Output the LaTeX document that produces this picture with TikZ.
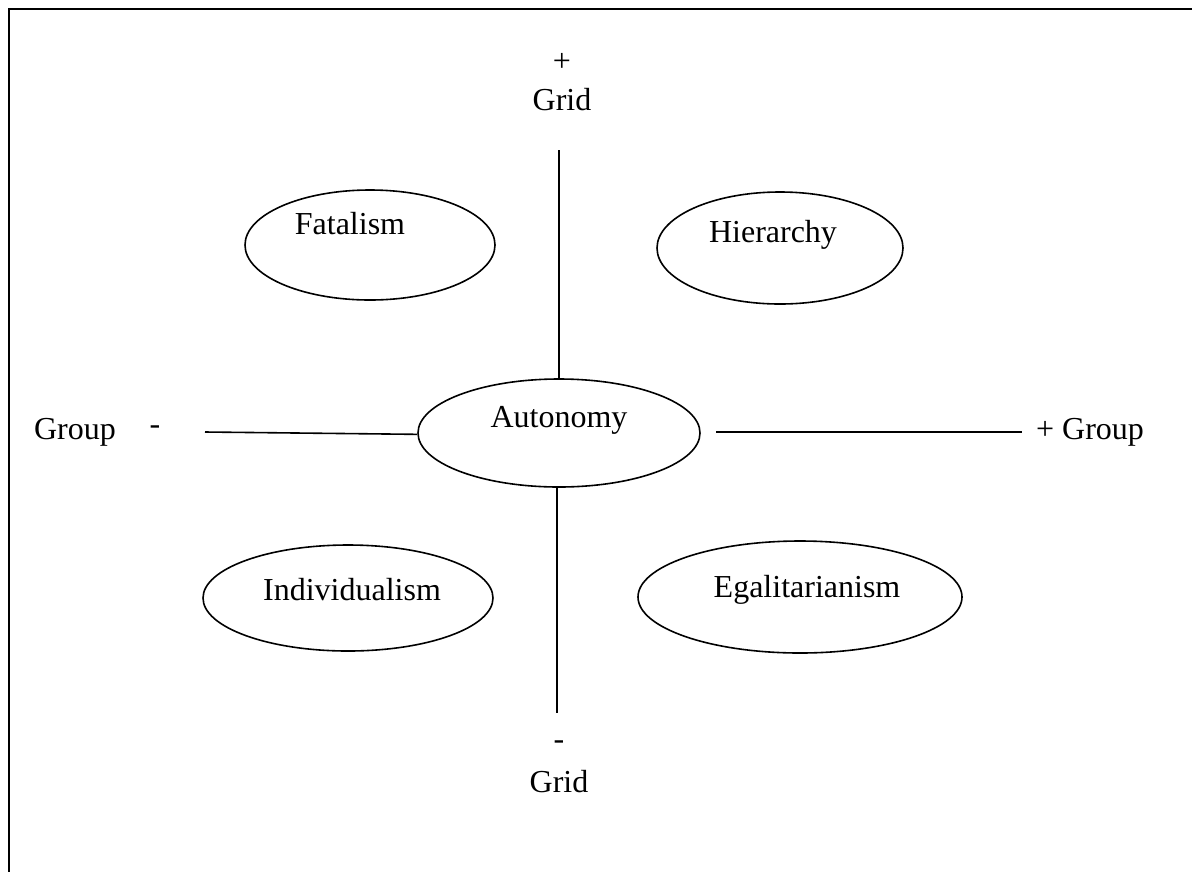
\documentclass[tikz,border=0pt]{standalone}
\usepackage{fontspec}
\setmainfont{Liberation Serif}
\usetikzlibrary{shapes.geometric}
\begin{document}
\begin{tikzpicture}[x=0.375pt,y=-0.375pt,
  oval/.style={draw,line width=0.6pt,ellipse,inner sep=0pt},
  axis/.style={line width=0.6pt},
  lbl/.style={font=\fontsize{12pt}{14pt}\selectfont,inner sep=0pt}]
\useasboundingbox (0,0) rectangle (1192,872);
\draw[line width=0.8pt] (1192,9) -- (9,9) -- (9,872);
% ellipses
\node[oval,minimum width=250*0.375pt,minimum height=110*0.375pt] (fat) at (370,245) {};
\node[lbl] (fatt) at (350,224) {Fatalism};
\node[oval,minimum width=246*0.375pt,minimum height=112*0.375pt] (hier) at (780,248) {};
\node[lbl] (hiert) at (773,235) {Hierarchy};
\node[oval,minimum width=282*0.375pt,minimum height=108*0.375pt] (aut) at (559,433) {};
\node[lbl] (autt) at (559,420) {Autonomy};
\node[oval,minimum width=290*0.375pt,minimum height=106*0.375pt] (ind) at (348,598) {};
\node[lbl] (indt) at (352,590) {Individualism};
\node[oval,minimum width=324*0.375pt,minimum height=112*0.375pt] (ega) at (800,597) {};
\node[lbl] (egat) at (807,590) {Egalitarianism};
% axes
\coordinate (vt) at (559,150);
\coordinate (vb) at (557,713);
\coordinate (hl) at (205,432);
\coordinate (hr1) at (716,432);
\coordinate (hr2) at (1022,432);
\draw[axis] (vt) -- (aut.north);
\draw[axis] (aut.south -| vb) -- (vb);
\draw[axis] (hl) -- ([yshift=-0.5pt]aut.west);
\draw[axis] (hr1) -- (hr2);
% labels
\node[lbl] (plus1) at (562,62) {+};
\node[lbl] (grid1) at (562,100) {Grid};
\node[lbl] (gl) at (75,432) {Group};
\node[lbl] (ml) at (155,430) {-};
\node[lbl] (gr) at (1090,432) {+ Group};
\node[lbl] (minus2) at (559,745) {-};
\node[lbl] (grid2) at (559,782) {Grid};
\end{tikzpicture}
\end{document}
